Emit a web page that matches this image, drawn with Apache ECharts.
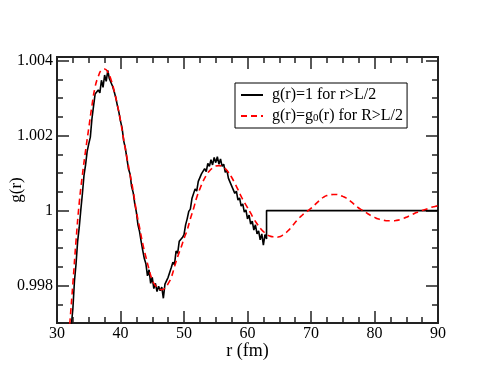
<!DOCTYPE html>
<html>
<head>
<meta charset="utf-8">
<script src="https://cdn.jsdelivr.net/npm/echarts@6/dist/echarts.min.js"></script>
<style>
  html, body { margin: 0; padding: 0; background: #fff; }
  #chart { width: 493px; height: 381px; }
</style>
</head>
<body>
<div id="chart"></div>
<script>
// g(r) with g(r)=1 beyond L/2 (noisy simulation curve)
var blackR = [32.00, 32.25, 32.50, 32.75, 33.00, 33.25, 33.50, 33.75, 34.00, 34.25,
    34.50, 34.75, 35.00, 35.25, 35.50, 35.75, 36.00, 36.25, 36.50, 36.75,
    37.00, 37.25, 37.50, 37.75, 38.00, 38.25, 38.50, 38.75, 39.00, 39.25,
    39.50, 39.75, 40.00, 40.25, 40.50, 40.75, 41.00, 41.25, 41.50, 41.75,
    42.00, 42.25, 42.50, 42.75, 43.00, 43.25, 43.50, 43.75, 44.00, 44.25,
    44.50, 44.75, 45.00, 45.25, 45.50, 45.75, 46.00, 46.25, 46.50, 46.75,
    47.00, 47.25, 47.50, 47.75, 48.00, 48.25, 48.50, 48.75, 49.00, 49.25,
    49.50, 49.75, 50.00, 50.25, 50.50, 50.75, 51.00, 51.25, 51.50, 51.75,
    52.00, 52.25, 52.50, 52.75, 53.00, 53.25, 53.50, 53.75, 54.00, 54.25,
    54.50, 54.75, 55.00, 55.25, 55.50, 55.75, 56.00, 56.25, 56.50, 56.75,
    57.00, 57.25, 57.50, 57.75, 58.00, 58.25, 58.50, 58.75, 59.00, 59.25,
    59.50, 59.75, 60.00, 60.25, 60.50, 60.75, 61.00, 61.25, 61.50, 61.75,
    62.00, 62.25, 62.50, 62.75, 63.00, 63.00, 90.00];
var blackG = [0.99640, 0.99693, 0.99738, 0.99812, 0.99858, 0.99918, 0.99955, 1.00002, 1.00045, 1.00094,
    1.00122, 1.00158, 1.00178, 1.00196, 1.00245, 1.00278, 1.00311, 1.00306, 1.00322, 1.00314,
    1.00348, 1.00329, 1.00362, 1.00345, 1.00374, 1.00352, 1.00348, 1.00332, 1.00318, 1.00302,
    1.00281, 1.00262, 1.00239, 1.00221, 1.00186, 1.00168, 1.00140, 1.00112, 1.00098, 1.00064,
    1.00048, 1.00018, 0.99996, 0.99962, 0.99944, 0.99918, 0.99894, 0.99872, 0.99858, 0.99826,
    0.99842, 0.99806, 0.99822, 0.99792, 0.99806, 0.99784, 0.99798, 0.99786, 0.99796, 0.99766,
    0.99804, 0.99808, 0.99822, 0.99818, 0.99848, 0.99862, 0.99856, 0.99892, 0.99886, 0.99918,
    0.99914, 0.99928, 0.99936, 0.99962, 0.99978, 0.99998, 1.00004, 1.00032, 1.00028, 1.00058,
    1.00052, 1.00078, 1.00074, 1.00098, 1.00094, 1.00112, 1.00104, 1.00126, 1.00118, 1.00136,
    1.00122, 1.00142, 1.00128, 1.00144, 1.00124, 1.00138, 1.00118, 1.00124, 1.00102, 1.00108,
    1.00086, 1.00088, 1.00066, 1.00068, 1.00046, 1.00052, 1.00028, 1.00034, 1.00012, 1.00018,
    0.99996, 1.00002, 0.99978, 0.99988, 0.99964, 0.99972, 0.99948, 0.99962, 0.99938, 0.99946,
    0.99922, 0.99938, 0.99908, 0.99936, 0.99924, 1.00000, 1.00000];

// g(r)=g0(r) beyond R>L/2 (smooth curve)
var redR = [31.5, 32.0, 32.5, 33.0, 33.5, 34.0, 34.5, 35.0, 35.5, 36.0,
    36.5, 37.0, 37.5, 38.0, 38.5, 39.0, 39.5, 40.0, 40.5, 41.0,
    41.5, 42.0, 42.5, 43.0, 43.5, 44.0, 44.5, 45.0, 45.5, 46.0,
    46.5, 47.0, 47.5, 48.0, 48.5, 49.0, 49.5, 50.0, 50.5, 51.0,
    51.5, 52.0, 52.5, 53.0, 53.5, 54.0, 54.5, 55.0, 55.5, 56.0,
    56.5, 57.0, 57.5, 58.0, 58.5, 59.0, 59.5, 60.0, 60.5, 61.0,
    61.5, 62.0, 62.5, 63.0, 63.5, 64.0, 64.5, 65.0, 65.5, 66.0,
    66.5, 67.0, 67.5, 68.0, 68.5, 69.0, 69.5, 70.0, 70.5, 71.0,
    71.5, 72.0, 72.5, 73.0, 73.5, 74.0, 74.5, 75.0, 75.5, 76.0,
    76.5, 77.0, 77.5, 78.0, 78.5, 79.0, 79.5, 80.0, 80.5, 81.0,
    81.5, 82.0, 82.5, 83.0, 83.5, 84.0, 84.5, 85.0, 85.5, 86.0,
    86.5, 87.0, 87.5, 88.0, 88.5, 89.0, 89.5, 90.0];
var redG = [0.99590, 0.99695, 0.99805, 0.99920, 1.00020, 1.00095, 1.00160, 1.00220, 1.00280, 1.00330,
    1.00358, 1.00375, 1.00378, 1.00370, 1.00350, 1.00320, 1.00283, 1.00240, 1.00190, 1.00143,
    1.00097, 1.00052, 0.99998, 0.99955, 0.99912, 0.99876, 0.99843, 0.99815, 0.99800, 0.99792,
    0.99789, 0.99793, 0.99805, 0.99822, 0.99850, 0.99877, 0.99900, 0.99925, 0.99948, 0.99978,
    1.00005, 1.00035, 1.00058, 1.00078, 1.00094, 1.00106, 1.00114, 1.00119, 1.00120, 1.00118,
    1.00112, 1.00102, 1.00089, 1.00073, 1.00056, 1.00038, 1.00022, 1.00008, 0.99993, 0.99978,
    0.99965, 0.99953, 0.99944, 0.99937, 0.99932, 0.99930, 0.99929, 0.99930, 0.99934, 0.99940,
    0.99948, 0.99958, 0.99968, 0.99978, 0.99986, 0.99993, 0.99999, 1.00006, 1.00014, 1.00022,
    1.00030, 1.00036, 1.00040, 1.00042, 1.00043, 1.00043, 1.00041, 1.00038, 1.00034, 1.00028,
    1.00021, 1.00014, 1.00007, 1.00002, 0.99997, 0.99991, 0.99986, 0.99982, 0.99978, 0.99976,
    0.99974, 0.99973, 0.99973, 0.99973, 0.99974, 0.99976, 0.99979, 0.99982, 0.99986, 0.99990,
    0.99994, 0.99997, 1.00000, 1.00003, 1.00006, 1.00009, 1.00011, 1.00013];

var yMajorTicks = [0.998, 1, 1.002, 1.004];
var nameBlack = 'g(r)=1 for r>L/2';
var nameRed = 'g(r)=g0(r) for R>L/2';

function pairs(xs, ys) {
    var out = [];
    for (var i = 0; i < xs.length; i++) {
        out.push([xs[i], ys[i]]);
    }
    return out;
}

var font = 'Liberation Serif';
var axisColor = '#222';

function xAxisDef(pos, interval, len, withLabels) {
    return {
        type: 'value', position: pos, min: 30, max: 90, interval: interval,
        axisLine: {show: true, onZero: false, lineStyle: {color: axisColor, width: 2}},
        axisTick: {show: true, inside: true, length: len, lineStyle: {color: axisColor, width: 1.5}},
        axisLabel: withLabels ? {show: true, margin: 3, color: '#000', fontFamily: font, fontSize: 16} : {show: false},
        splitLine: {show: false},
        name: withLabels ? 'r (fm)' : '',
        nameLocation: 'middle',
        nameGap: 19,
        nameMoveOverlap: false,
        nameTextStyle: {color: '#000', fontFamily: font, fontSize: 18}
    };
}

function yMinorDef(pos) {
    return {
        type: 'value', position: pos, min: 0.997, max: 1.0041, interval: 0.0005,
        axisLine: {show: true, onZero: false, lineStyle: {color: axisColor, width: 2}},
        axisTick: {show: true, inside: true, length: 6, lineStyle: {color: axisColor, width: 1.5}},
        axisLabel: {show: false},
        splitLine: {show: false}
    };
}

function yMajorDef(pos, withLabels) {
    return {
        type: 'value', position: pos, min: 0.997, max: 1.0041,
        axisLine: {show: false},
        axisTick: {show: true, inside: true, length: 12, customValues: yMajorTicks,
            lineStyle: {color: axisColor, width: 1.5}},
        axisLabel: withLabels ? {
            show: true, margin: 4, color: '#000', fontFamily: font, fontSize: 16,
            customValues: yMajorTicks,
            formatter: function (v) { return String(+v.toFixed(3)); }
        } : {show: false},
        splitLine: {show: false},
        name: withLabels ? 'g(r)' : '',
        nameLocation: 'middle',
        nameGap: 32,
        nameMoveOverlap: false,
        nameTextStyle: {color: '#000', fontFamily: font, fontSize: 17}
    };
}

var myChart = echarts.init(document.getElementById('chart'));

var option = {
    animation: false,
    backgroundColor: '#fff',
    grid: {left: 57, right: 55, top: 57, bottom: 58, outerBoundsMode: 'none'},
    legend: {
        orient: 'vertical',
        left: 235,
        top: 83,
        padding: [4, 4, 4, 5],
        itemGap: 3,
        itemWidth: 22,
        itemHeight: 14,
        borderColor: '#000',
        borderWidth: 1,
        backgroundColor: '#fff',
        itemStyle: {opacity: 0},
        data: [nameBlack, nameRed],
        formatter: function (name) {
            if (name === nameRed) return 'g(r)=g{sub|0}(r) for R>L/2';
            return name;
        },
        textStyle: {
            fontFamily: font, fontSize: 16, color: '#000', lineHeight: 16, padding: [0, 0, 0, 4],
            rich: {
                sub: {fontFamily: font, fontSize: 11, lineHeight: 16, verticalAlign: 'bottom', padding: [7, 0, 0, 0]}
            }
        }
    },
    xAxis: [
        xAxisDef('bottom', 2.5, 6, false),
        xAxisDef('bottom', 10, 12, true),
        xAxisDef('top', 2.5, 6, false),
        xAxisDef('top', 10, 12, false)
    ],
    yAxis: [
        yMinorDef('left'),
        yMajorDef('left', true),
        yMinorDef('right'),
        yMajorDef('right', false)
    ],
    series: [
        {
            type: 'line', name: nameBlack, xAxisIndex: 0, yAxisIndex: 0,
            data: pairs(blackR, blackG), symbol: 'none', clip: true,
            lineStyle: {color: '#000', width: 1.6},
            itemStyle: {color: '#000'}
        },
        {
            type: 'line', name: nameRed, xAxisIndex: 0, yAxisIndex: 0,
            data: pairs(redR, redG), symbol: 'none', smooth: true, clip: true,
            lineStyle: {color: '#ff0000', width: 1.6, type: [6, 4]},
            itemStyle: {color: '#ff0000'}
        }
    ]
};

myChart.setOption(option);
</script>
</body>
</html>
